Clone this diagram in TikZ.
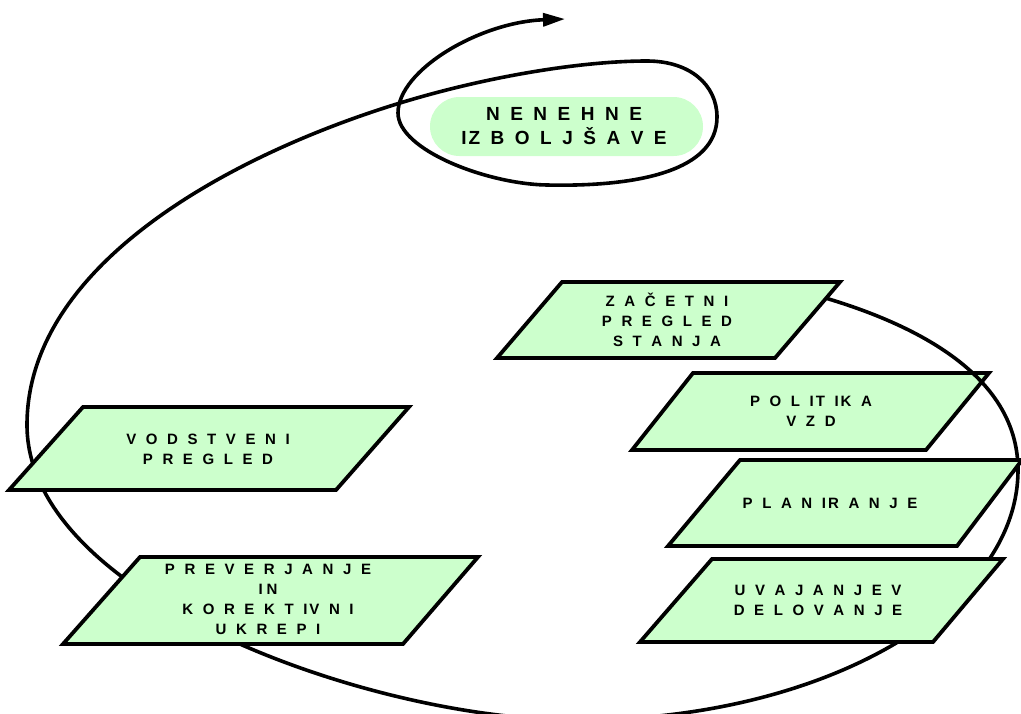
\documentclass[tikz,border=0pt]{standalone}
\usepackage{fontspec}
\setmainfont{Liberation Sans}
\usetikzlibrary{arrows.meta}
\definecolor{boxgreen}{HTML}{CCFFCC}
% tight pair of letters inside a spaced-out word
\newcommand\tk{\kern2pt}
% spaced-out bold lettering for the boxes and for the goal
\newcommand\stepfont{\fontsize{15}{20}\selectfont\bfseries\spaceskip=9.6pt\relax}
\newcommand\goalfont{\fontsize{19}{24}\selectfont\bfseries\spaceskip=10.5pt\relax}
\begin{document}
\begin{tikzpicture}[x=1pt,y=-1pt,
  boxline/.style={draw=black, fill=boxgreen, line width=3.8pt, line join=miter},
  boxtext/.style={font=\stepfont, align=center, inner sep=0pt, text=black},
  pilltext/.style={font=\goalfont, align=center, inner sep=0pt, text=black},
  spiral/.style={line width=3.6pt, line join=round}]
\useasboundingbox (0,0) rectangle (1021,713);

% goal in the centre of the loop
\node[fill=boxgreen, rounded corners=29.5pt, minimum width=273pt,
      minimum height=59pt, inner sep=0pt] (pill) at (566.5,126.5) {};
\node[pilltext] (goal) at (564,126) {N E N E H N E\\I\tk Z B O L J Š A V E};

% policy box lies under the spiral
\filldraw[boxline] (693,373) -- (989,373) -- (926,450) -- (632,450) -- cycle;
\node[boxtext] (policy) at (811,411) {P O L I\tk T I\tk K A\\V Z D};

% the improvement spiral: outer turn, then the small loop round the goal
\coordinate (s0) at (822,297);
\coordinate (tip) at (565,19);
\draw[spiral, -{Triangle[length=22pt,width=13pt]}]
  (s0) .. controls (935,330) and (1018,385) .. (1018,470)
       .. controls (1018,608) and (822,720) .. (580,720)
       .. controls (380,722) and (27,600) .. (27,425)
       .. controls (27,265) and (230,155) .. (400,103)
       .. controls (485,77) and (580,61) .. (647,61)
       .. controls (690,61) and (717,85) .. (717,117)
       .. controls (717,170) and (640,187) .. (547,185)
       .. controls (487,184) and (398,150) .. (398,113)
       .. controls (398,70) and (480,22) .. (tip);

% process steps
\filldraw[boxline] (562,282) -- (840,282) -- (775,358) -- (497,358) -- cycle;
\node[boxtext] (review0) at (667,320) {Z A Č E T N I\\P R E G L E D\\S T A N J A};

\filldraw[boxline] (740,460) -- (1022,460) -- (957,546) -- (668,546) -- cycle;
\node[boxtext] (plan) at (830,503) {P L A N I\tk R A N J E};

\filldraw[boxline] (712,559) -- (1003,559) -- (933,642) -- (640,642) -- cycle;
\node[boxtext] (do) at (818,600) {U V A J A N J E V\\D E L O V A N J E};

\filldraw[boxline] (140,557) -- (478,557) -- (403,644) -- (63,644) -- cycle;
\node[boxtext] (check) at (268,599) {P R E V E R J A N J E\\I\kern4pt N\\K O R E K T I\tk V N I\\U K R E P I};

\filldraw[boxline] (83,407) -- (409,407) -- (336,490) -- (9,490) -- cycle;
\node[boxtext] (mgmt) at (208,449) {V O D S T V E N I\\P R E G L E D};
\end{tikzpicture}
\end{document}
